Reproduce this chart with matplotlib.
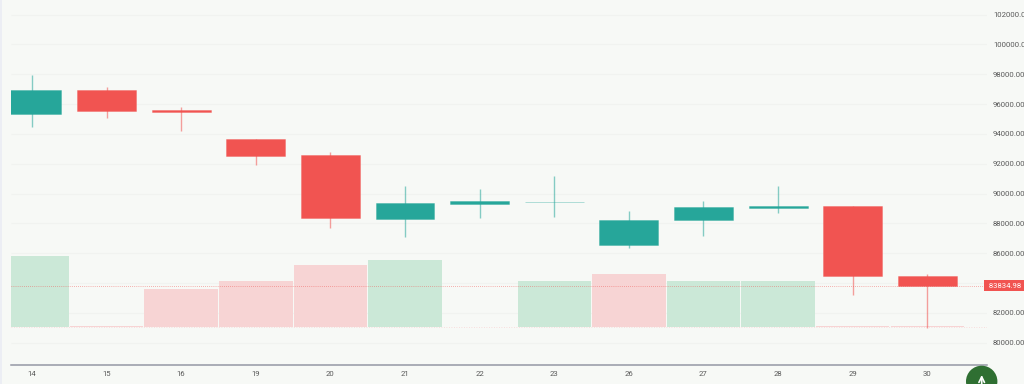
import matplotlib
matplotlib.use("Agg")
import matplotlib.pyplot as plt
import numpy as np
from matplotlib.colors import to_rgba
from matplotlib.patches import Circle, Rectangle

days = ["14", "15", "16", "19", "20", "21", "22", "23", "26", "27", "28", "29", "30"]
opens = [95340, 96950, 95600, 93630, 92555, 88300, 89320, 89420, 86550, 88230, 89030, 89170, 84490]
closes = [96950, 95570, 95470, 92520, 88330, 89370, 89480, 89450, 88230, 89100, 89170, 84450, 83835]
highs = [97955, 97150, 95810, 93630, 92790, 90510, 90290, 91180, 88810, 89500, 90500, 89200, 84590]
lows = [94470, 95040, 94230, 91920, 87690, 87110, 88380, 88430, 86370, 87160, 88700, 83200, 81010]
volumes = [71, 1, 38, 46, 62, 67, 0.5, 46, 53.5, 46, 46, 1, 1]
vol_up = [True, False, False, False, False, True, True, True, False, True, True, False, False]
price_ticks = list(range(80000, 102001, 2000))
last_price = 83834.98

BG = "#f7f9f6"
GREEN = "#26a69a"
RED = "#f15451"
VOL_GREEN = "#cbe8d7"
VOL_RED = "#f7d4d4"

plt.rcParams["font.family"] = ["Roboto", "DejaVu Sans"]

fig = plt.figure(figsize=(10.24, 3.84), dpi=100, facecolor=BG)
rect = [11 / 1024, 19 / 384, 976 / 1024, 365 / 384]

# volume goes on its own axes behind the candles
ax_vol = fig.add_axes(rect, facecolor=BG)
ax = fig.add_axes(rect, facecolor="none")

x = np.arange(len(days))

ax.set_xlim(-0.281, 12.8)
ax.set_ylim(78504, 102984)

# grid sits behind the volume bars, so draw it on ax_vol with the price scale
ax_vol.hlines(price_ticks, 0, 1, transform=ax.get_yaxis_transform(),
              color="#f1f3f0", lw=0.8, zorder=1)

ax_vol.bar(x, volumes, width=0.985, color=[VOL_GREEN if u else VOL_RED for u in vol_up],
           linewidth=0, zorder=2)
ax_vol.axhline(0, color=VOL_RED, lw=0.6, ls=(0, (1, 2)), zorder=3)
ax_vol.set_xlim(-0.281, 12.8)
ax_vol.set_ylim(-38, 327)
ax_vol.axis("off")

for i in x:
    up = closes[i] >= opens[i]
    c = GREEN if up else RED
    lo, hi = min(opens[i], closes[i]), max(opens[i], closes[i])
    ax.vlines(i, lows[i], highs[i], color=c, lw=1.0, alpha=0.55, zorder=3)
    # solid fill, paler 1px outline round it
    ax.bar(i, hi - lo, bottom=lo, width=0.79, color=c if hi - lo > 50 else to_rgba(c, 0.35),
           edgecolor=to_rgba(c, 0.4), linewidth=0.6, zorder=4)

ax.axhline(last_price, color=RED, lw=0.5, ls=(0, (1, 2)), alpha=0.85, zorder=5)

ax.set_xticks(x)
ax.set_xticklabels(days)
ax.yaxis.tick_right()
ax.set_yticks(price_ticks)
# the 84000 label sits under the last price tag
ax.set_yticklabels(["" if v == 84000 else f"{v:.2f}" for v in price_ticks])
ax.tick_params(axis="both", length=0, labelsize=5.6, labelcolor="#5a5a5a")
ax.tick_params(axis="y", pad=4.3)
ax.tick_params(axis="x", pad=4.5)
for name in ["top", "left", "right"]:
    ax.spines[name].set_visible(False)
ax.spines["bottom"].set_color("#9598a5")
ax.spines["bottom"].set_linewidth(1.1)

ax.text(1.0, last_price, f" {last_price:.2f}", transform=ax.get_yaxis_transform(),
        ha="left", va="center", fontsize=5.6, color="white", clip_on=False, zorder=6,
        bbox=dict(facecolor=RED, edgecolor="none", boxstyle="square,pad=0.35"))

# page furniture in pixel coordinates
ui = fig.add_axes([0, 0, 1, 1], facecolor="none")
ui.set_xlim(0, 1024)
ui.set_ylim(384, 0)
ui.axis("off")
ui.add_patch(Rectangle((0, 0), 1.5, 384, color="#eceef4", lw=0))
ui.add_patch(Circle((981.7, 381.4), 15.7, color="#2f6f32", lw=0))
ui.annotate("", xy=(981.7, 375), xytext=(981.7, 386),
            arrowprops=dict(arrowstyle="->", color="white", lw=1.2, mutation_scale=10,
                            shrinkA=0, shrinkB=0))

fig.savefig("out.png", dpi=100, facecolor=fig.get_facecolor())
